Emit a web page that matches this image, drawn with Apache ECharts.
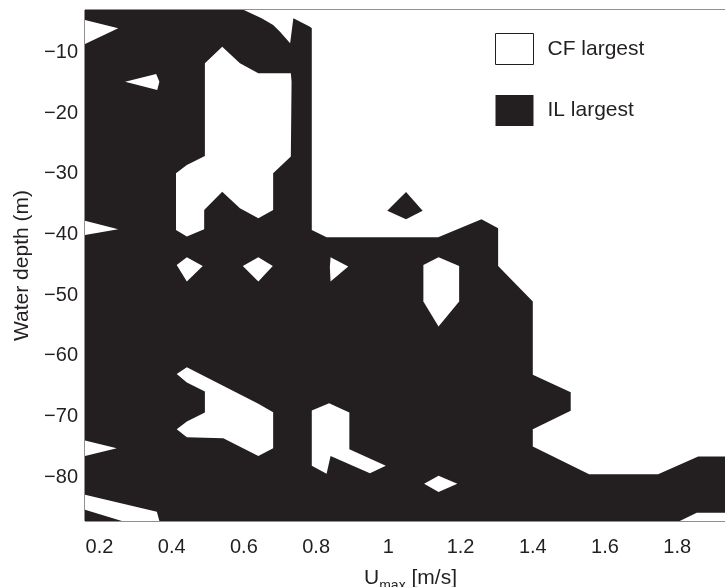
<!DOCTYPE html>
<html><head><meta charset="utf-8">
<script src="https://cdn.jsdelivr.net/npm/echarts@6/dist/echarts.min.js"></script>
<style>html,body{margin:0;padding:0;background:#fff}#c{width:725px;height:587px}</style>
</head><body><div id="c"></div>
<script>
// Axis ticks and ranges
const xTicks = [0.2, 0.4, 0.6, 0.8, 1, 1.2, 1.4, 1.6, 1.8];
const yTicks = [-80, -70, -60, -50, -40, -30, -20, -10];
const uRange = [0.16, 1.935];
const depthRange = [-87.2, -3];

// Regions where CF response is largest, as [U_max (m/s), water depth (m)] outlines
const cfTopRight = [[0.600,-3],[0.649,-4.37],[0.681,-5.47],[0.700,-6.57],[0.728,-8.49],[0.737,-4.37],[0.783,-5.75],[0.788,-6.01],[0.788,-39.24],[0.829,-40.44],[1.138,-40.44],[1.258,-37.48],[1.304,-38.96],[1.304,-45.17],[1.400,-51.05],[1.400,-63.12],[1.505,-65.97],[1.505,-69.05],[1.400,-72.07],[1.400,-74.93],[1.556,-79.48],[1.747,-79.48],[1.858,-76.58],[1.96,-76.58],[1.96,-2],[0.600,-2]];
const cfUpperPocket = [[0.540,-9.05],[0.589,-11.78],[0.640,-13.43],[0.730,-13.43],[0.732,-14.81],[0.730,-27.16],[0.681,-29.90],[0.681,-35.94],[0.640,-37.31],[0.589,-35.66],[0.540,-32.93],[0.490,-35.94],[0.490,-39.12],[0.442,-40.34],[0.412,-39.24],[0.412,-29.90],[0.442,-28.53],[0.492,-27.05],[0.492,-11.78]];
const cfEdgeTop = [[0.15,-4.65],[0.16,-4.65],[0.252,-6.01],[0.16,-8.60],[0.15,-8.60]];
const cfSmallSpot = [[0.271,-14.81],[0.357,-13.54],[0.366,-14.81],[0.360,-16.18]];
const cfEdgeMid = [[0.15,-37.71],[0.16,-37.71],[0.252,-39.12],[0.16,-40.06],[0.15,-40.06]];
const cfDiamondA = [[0.442,-43.74],[0.486,-45.17],[0.442,-47.75],[0.414,-45.00]];
const cfDiamondB = [[0.640,-43.74],[0.680,-45.17],[0.640,-47.75],[0.597,-45.17]];
const cfDiamondC = [[0.840,-43.74],[0.889,-45.28],[0.840,-47.75],[0.838,-45.4]];
const cfHexagon = [[1.139,-43.74],[1.196,-45.17],[1.196,-51.05],[1.139,-55.17],[1.097,-51.05],[1.097,-45.00]];
const cfLowerLeft = [[0.442,-61.85],[0.640,-67.90],[0.681,-69.27],[0.681,-75.20],[0.640,-76.47],[0.543,-73.55],[0.442,-73.39],[0.414,-72.07],[0.442,-70.82],[0.492,-69.33],[0.492,-65.87],[0.442,-64.39],[0.414,-62.96]];
const cfLowerMid = [[0.788,-69.00],[0.836,-67.78],[0.892,-69.33],[0.892,-75.36],[0.993,-78.11],[0.949,-79.32],[0.840,-76.47],[0.829,-79.43],[0.788,-78.11]];
const cfEdgeLow = [[0.15,-73.95],[0.16,-73.95],[0.248,-75.20],[0.16,-76.47],[0.15,-76.47]];
const cfSmallDiamond = [[1.139,-79.76],[1.191,-81.08],[1.139,-82.44],[1.099,-81.08]];
const cfBottomLeft = [[0.15,-82.89],[0.16,-82.89],[0.359,-85.69],[0.366,-87.2],[0.262,-87.2],[0.16,-85.36],[0.15,-85.36]];
const cfBottomRight = [[1.807,-87.2],[1.854,-85.85],[1.96,-85.85],[1.96,-88],[1.807,-88]];

// Isolated IL spot inside the CF area
const ilIsland = [[1.049,-32.98],[1.095,-36.06],[1.049,-37.48],[0.997,-36.06]];

const cfRegions = [cfTopRight, cfUpperPocket, cfEdgeTop, cfSmallSpot, cfEdgeMid, cfDiamondA, cfDiamondB, cfDiamondC, cfHexagon, cfLowerLeft, cfLowerMid, cfEdgeLow, cfSmallDiamond, cfBottomLeft, cfBottomRight];
const ilIslands = [ilIsland];

const INK = '#231f20';
const FONT = '"Liberation Sans", Arial, Helvetica, sans-serif';

function polyRender(polys, fill) {
  return function (params, api) {
    const pts = polys[params.dataIndex].map(p => api.coord(p));
    return { type: 'polygon', shape: { points: pts }, style: { fill: fill } };
  };
}
function bgRender(params, api) {
  const cs = params.coordSys;
  return { type: 'rect', shape: { x: cs.x, y: cs.y, width: cs.width, height: cs.height }, style: { fill: INK } };
}

const chart = echarts.init(document.getElementById('c'), null, { renderer: 'canvas' });
chart.setOption({
  animation: false,
  backgroundColor: '#fff',
  grid: { left: 85, right: -1, top: 10, bottom: 66, containLabel: false, outerBoundsMode: 'none', show: true, borderColor: INK, borderWidth: 1, backgroundColor: 'transparent' },
  xAxis: {
    type: 'value', min: uRange[0], max: uRange[1],
    name: '{u|U}{s|max}{u| [m/s]}', nameLocation: 'middle', nameGap: 47,
    nameTextStyle: { padding: [0, 0, 0, 10], rich: {
      u: { fontSize: 21, fontFamily: FONT, color: INK },
      s: { fontSize: 14, fontFamily: FONT, color: INK, verticalAlign: 'bottom', padding: [0, 0, -4, 0] }
    } },
    axisLine: { show: false }, axisTick: { show: false }, splitLine: { show: false },
    axisLabel: { customValues: xTicks, fontSize: 20, fontFamily: FONT, color: INK, margin: 16, formatter: v => String(v) }
  },
  yAxis: {
    type: 'value', min: depthRange[0], max: depthRange[1],
    name: 'Water depth (m)', nameLocation: 'middle', nameGap: 51,
    nameTextStyle: { fontSize: 21, fontFamily: FONT, color: INK },
    axisLine: { show: false }, axisTick: { show: false }, splitLine: { show: false },
    axisLabel: { customValues: yTicks, fontSize: 20, fontFamily: FONT, color: INK, margin: 7, formatter: v => String(v).replace('-', '\u2212') }
  },
  legend: {
    orient: 'vertical', left: 495, top: 33, padding: 0, itemWidth: 38, itemHeight: 31, itemGap: 30, selectedMode: false,
    textStyle: { fontSize: 21, fontFamily: FONT, color: INK, padding: [6, 0, 0, 9] },
    data: [
      { name: 'CF largest', icon: 'rect', itemStyle: { color: '#fff', borderColor: INK, borderWidth: 1 } },
      { name: 'IL largest', icon: 'rect', itemStyle: { color: INK } }
    ]
  },
  series: [
    { type: 'custom', name: 'IL largest', renderItem: bgRender, data: [[uRange[0], depthRange[0]]], z: 1, silent: true, itemStyle: { color: INK } },
    { type: 'custom', name: 'CF largest', renderItem: polyRender(cfRegions, '#fff'), data: cfRegions.map(p => p[0]), clip: true, z: 2, silent: true, itemStyle: { color: '#fff' } },
    { type: 'custom', name: 'IL largest', renderItem: polyRender(ilIslands, INK), data: ilIslands.map(p => p[0]), clip: true, z: 3, silent: true, itemStyle: { color: INK } }
  ]
});
</script></body></html>
